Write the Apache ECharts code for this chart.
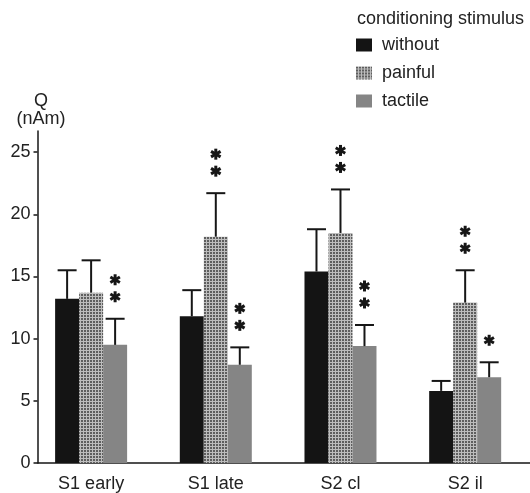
<!DOCTYPE html>
<html>
<head>
<meta charset="utf-8">
<script src="https://cdn.jsdelivr.net/npm/echarts@6/dist/echarts.min.js"></script>
<style>
  html, body { margin: 0; padding: 0; background: #fff; }
  #chart { width: 530px; height: 493px; }
</style>
</head>
<body>
<div id="chart"></div>
<script>
// Source amplitudes (Q, nAm) per response component and conditioning stimulus
const categories = ['S1 early', 'S1 late', 'S2 cl', 'S2 il'];
const seriesNames = ['without', 'painful', 'tactile'];

const withoutMean = [13.2, 11.8, 15.4, 5.8];
const withoutErr  = [2.3, 2.1, 3.4, 0.8];
const painfulMean = [13.7, 18.2, 18.5, 12.9];
const painfulErr  = [2.6, 3.5, 3.5, 2.6];
const tactileMean = [9.5, 7.9, 9.4, 6.9];
const tactileErr  = [2.1, 1.4, 1.7, 1.2];

// significance markers above each bar
const withoutSig = ['', '', '', ''];
const painfulSig = ['', '**', '**', '**'];
const tactileSig = ['**', '**', '**', '*'];

const yTicks = [0, 5, 10, 15, 20, 25];
const categoryPositions = [0, 1, 2, 3];

const chart = echarts.init(document.getElementById('chart'), null, { renderer: 'canvas' });

// fine dotted fill for the "painful" bars
function dotPattern() {
  const c = document.createElement('canvas');
  c.width = 3; c.height = 3;
  const g = c.getContext('2d');
  g.fillStyle = '#bdbdbd';
  g.fillRect(0, 0, 3, 3);
  g.fillStyle = '#5e5e5e';
  g.fillRect(0, 0, 2, 2);
  return c;
}

const BAR_W = 24;
const INK = '#161616';
const FONT = 'Liberation Sans, Arial, Helvetica, sans-serif';

const groups = [
  { name: 'without', mean: withoutMean, err: withoutErr, sig: withoutSig, color: '#141414', offset: -BAR_W },
  { name: 'painful', mean: painfulMean, err: painfulErr, sig: painfulSig, color: { image: dotPattern(), repeat: 'repeat' }, offset: 0 },
  { name: 'tactile', mean: tactileMean, err: tactileErr, sig: tactileSig, color: '#858585', offset: BAR_W }
];

// six-armed asterisk built from three crossing strokes
function asterisk(cx, cy, r) {
  const parts = [];
  [90, 30, 150].forEach(function (deg) {
    const a = deg * Math.PI / 180;
    const dx = Math.cos(a) * r, dy = Math.sin(a) * r;
    parts.push({
      type: 'line',
      shape: { x1: cx - dx, y1: cy - dy, x2: cx + dx, y2: cy + dy },
      style: { stroke: INK, lineWidth: 3 }
    });
  });
  return parts;
}

function errorSeries(g) {
  return {
    type: 'custom',
    name: g.name + '-err',
    silent: true,
    z: 5,
    data: categoryPositions.map(function (x, i) { return [x, g.mean[i], g.err[i], i]; }),
    renderItem: function (params, api) {
      const x = api.value(0), m = api.value(1), e = api.value(2), i = api.value(3);
      const base = api.coord([x, m]);
      const top = api.coord([x, m + e]);
      const cx = base[0] + g.offset;
      const children = [
        { type: 'line', shape: { x1: cx, y1: base[1], x2: cx, y2: top[1] }, style: { stroke: INK, lineWidth: 2 } },
        { type: 'line', shape: { x1: cx - 9.5, y1: top[1], x2: cx + 9.5, y2: top[1] }, style: { stroke: INK, lineWidth: 2 } }
      ];
      const n = g.sig[i].length;
      for (let k = 0; k < n; k++) {
        Array.prototype.push.apply(children, asterisk(cx, top[1] - 22 - k * 17, 5.5));
      }
      return { type: 'group', children: children };
    }
  };
}

const barSeries = groups.map(function (g) {
  return {
    type: 'bar',
    name: g.name,
    barWidth: BAR_W,
    barGap: '0%',
    itemStyle: { color: g.color },
    data: categoryPositions.map(function (x, i) { return [x, g.mean[i]]; })
  };
});

const option = {
  animation: false,
  backgroundColor: '#ffffff',
  textStyle: { fontFamily: FONT },
  title: {
    text: 'conditioning stimulus',
    left: 357,
    top: 10,
    padding: 0,
    textStyle: { fontSize: 18, fontWeight: 'normal', color: '#222', fontFamily: FONT }
  },
  legend: {
    data: seriesNames,
    orient: 'vertical',
    left: 356,
    top: 36,
    padding: 0,
    itemWidth: 16,
    itemHeight: 13,
    itemGap: 10,
    icon: 'rect',
    selectedMode: false,
    textStyle: { fontSize: 18, color: '#222', fontFamily: FONT, padding: [0, 0, 0, 5] }
  },
  grid: { left: 37.5, right: 0, top: 131, bottom: 30 },
  xAxis: {
    type: 'value',
    min: -0.43,
    max: 3.52,
    splitLine: { show: false },
    axisLine: { show: true, onZero: false, lineStyle: { color: INK, width: 1.5 } },
    axisTick: { show: false },
    axisLabel: {
      customValues: categoryPositions,
      formatter: function (v) { return categories[Math.round(v)]; },
      fontSize: 18,
      color: '#222',
      margin: 12,
      fontFamily: FONT
    }
  },
  yAxis: {
    type: 'value',
    min: 0,
    max: 26.7,
    name: 'Q\n(nAm)',
    nameLocation: 'end',
    nameGap: 3,
    nameTextStyle: { fontSize: 18, color: '#222', align: 'center', lineHeight: 18, padding: [0, 0, 0, 7], fontFamily: FONT },
    splitLine: { show: false },
    axisLine: { show: true, onZero: false, lineStyle: { color: INK, width: 1.5 } },
    axisTick: { show: true, customValues: yTicks, length: 4, inside: false, lineStyle: { color: INK, width: 1.5 } },
    axisLabel: { customValues: yTicks, fontSize: 18, color: '#222', margin: 7, fontFamily: FONT }
  },
  series: barSeries.concat(groups.map(errorSeries))
};

chart.setOption(option);
</script>
</body>
</html>
